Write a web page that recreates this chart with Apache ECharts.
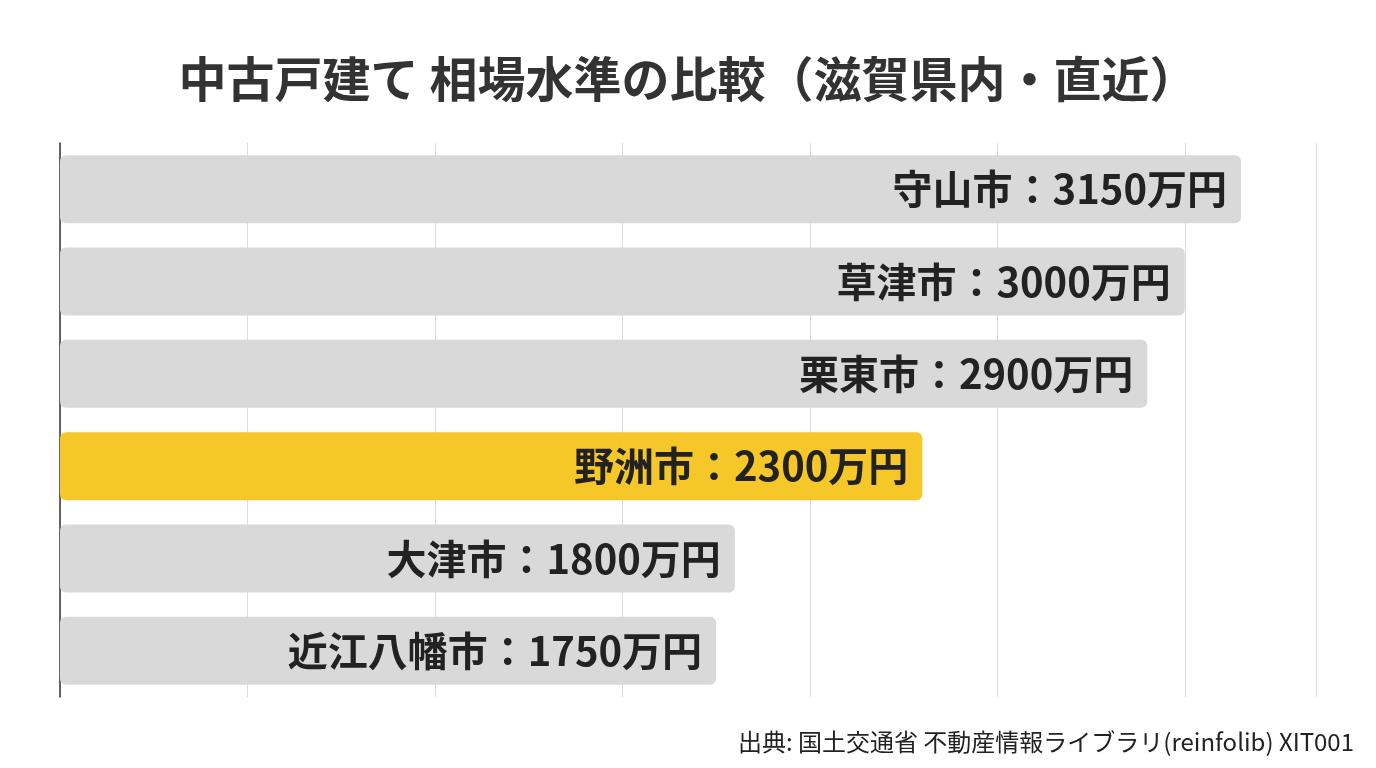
<!DOCTYPE html><html><head><meta charset="utf-8"><script src="https://cdn.jsdelivr.net/npm/echarts@6/dist/echarts.min.js"></script>
<style>html,body{margin:0;background:#fff}#c{width:1376px;height:768px}</style></head><body><div id="c"></div><script>
const cities=['守山市','草津市','栗東市','野洲市','大津市','近江八幡市'];
const values=[3150,3000,2900,2300,1800,1750];
const highlight='野洲市';
const c=echarts.init(document.getElementById('c'));
const ff='"Noto Sans CJK JP","Noto Sans",sans-serif';
c.setOption({
 animation:false,
 title:{text:'中古戸建て 相場水準の比較（滋賀県内・直近）',left:'center',top:50,textStyle:{fontFamily:ff,fontSize:48,fontWeight:'bold',color:'#333'}},
 graphic:[{type:'text',right:22,top:730,style:{text:'出典: 国土交通省 不動産情報ライブラリ(reinfolib) XIT001',font:'24px '+ff,fill:'#222',textAlign:'right'}}],
 grid:{left:60,right:60,top:143,bottom:71},
 xAxis:{type:'value',min:0,max:3350,interval:500,axisLabel:{show:false},axisLine:{show:false},axisTick:{show:false},splitLine:{lineStyle:{color:'#ddd',width:1}}},
 yAxis:{type:'category',inverse:true,data:cities,axisLabel:{show:false},axisTick:{show:false},axisLine:{lineStyle:{color:'#333',width:1.5}}},
 series:[{type:'bar',barWidth:68,data:values.map((v,i)=>({value:v,itemStyle:{color:cities[i]===highlight?'#f5c728':'#d9d9d9',borderRadius:6}})),
  label:{show:true,position:'insideRight',distance:14,formatter:p=>p.name+'：'+p.value+'万円',fontFamily:ff,fontSize:40,fontWeight:'bold',color:'#222'}}]
});
</script></body></html>
